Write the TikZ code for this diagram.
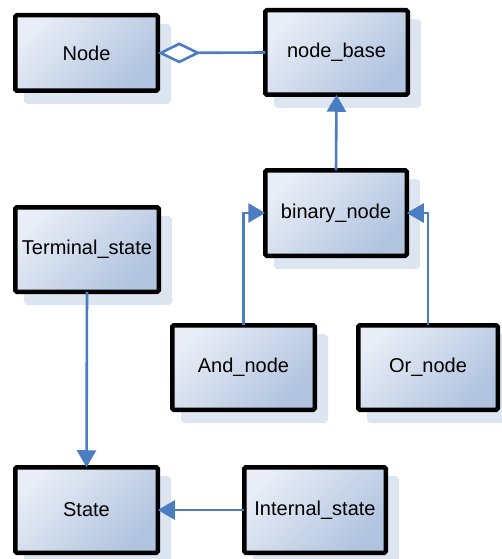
\documentclass[tikz,border=0pt]{standalone}
\usepackage{fontspec}
\setmainfont{Liberation Sans}
\usetikzlibrary{arrows.meta}
\definecolor{boxlight}{HTML}{E8EDF6}
\definecolor{boxdark}{HTML}{B0C3DF}
\definecolor{shadowc}{HTML}{DDE5F1}
\definecolor{linkblue}{HTML}{4A7DC2}
\tikzset{
  classbox/.style={
    draw=black, line width=4.5pt, rounded corners=1.5pt,
    top color=boxlight, bottom color=boxdark, shading angle=45,
    inner sep=0pt, outer sep=0pt, align=center,
    font=\fontsize{20}{24}\selectfont,
    preaction={fill=shadowc, draw=shadowc,
      transform canvas={shift={(11pt,-11pt)}}}
  },
  link/.style={draw=linkblue, line width=2.6pt},
  tip/.style={-{Triangle[length=17pt,width=19pt]}}
}
\begin{document}
\begin{tikzpicture}[x=1pt,y=-1pt]
\useasboundingbox (0,0) rectangle (501,559);
% class boxes (centre, outer size minus border width)
\node[classbox, minimum width=142.5pt, minimum height=75.5pt] (node) at (86.5,53) {Node};
\node[classbox, minimum width=142.5pt, minimum height=84.5pt] (base) at (336.5,52.5) {node\_base};
\node[classbox, minimum width=141.5pt, minimum height=85.5pt] (bin) at (336,213) {binary\_node};
\node[classbox, minimum width=143.5pt, minimum height=84.5pt] (term) at (87,249.5) {Terminal\_state};
\node[classbox, minimum width=142.5pt, minimum height=84.5pt] (and) at (243.5,367.5) {And\_node};
\node[classbox, minimum width=139.5pt, minimum height=84.5pt] (or) at (428,367.5) {Or\_node};
\node[classbox, minimum width=142.5pt, minimum height=85.5pt] (state) at (86.5,510) {State};
\node[classbox, minimum width=141.5pt, minimum height=85.5pt] (int) at (315,510) {Internal\_state};
% connectors
\draw[link, {Diamond[fill=white,length=43pt,width=21pt]}-] (node.east) -- (base.west);
\draw[link, tip] (bin.north) -- (base.south);
\draw[link, tip] (and.north) |- (bin.west);
\draw[link, tip] (or.north) |- (bin.east);
\draw[link, tip] (term.south) -- (state.north);
\draw[link, tip] (int.west) -- (state.east);
\end{tikzpicture}
\end{document}
